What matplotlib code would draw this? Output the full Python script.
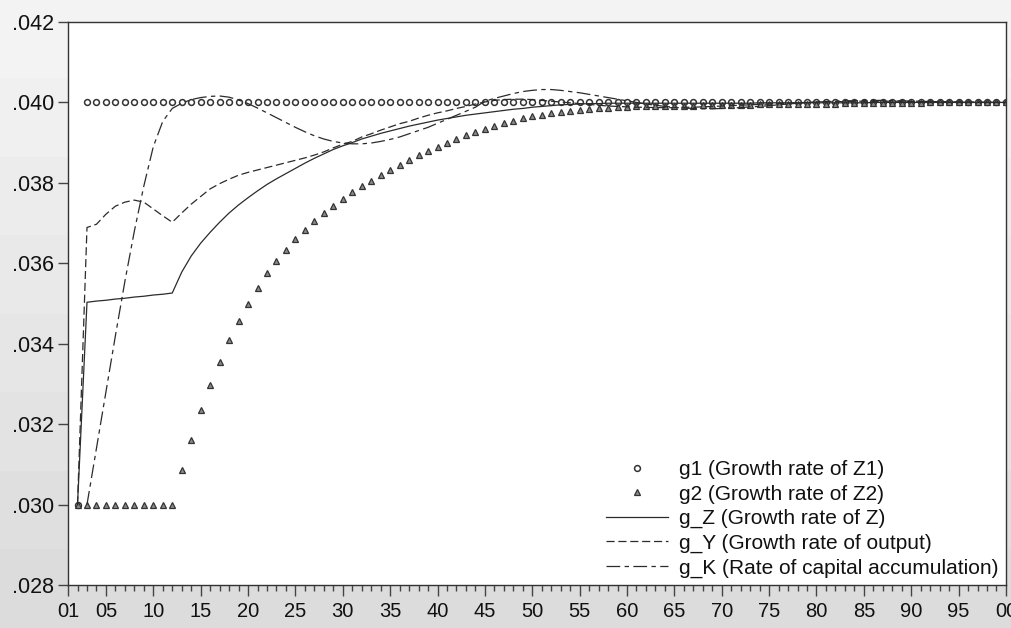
import numpy as np
import matplotlib
matplotlib.use("Agg")
import matplotlib.pyplot as plt
from matplotlib.ticker import FixedLocator, FuncFormatter

plt.rcParams['font.family'] = ['Liberation Sans', 'DejaVu Sans']

nan = np.nan

# periods 01 .. 00 (1..100)
periods = list(range(1, 101))

g1 = [nan, 0.030,
      0.040, 0.040, 0.040, 0.040, 0.040, 0.040, 0.040, 0.040,
      0.040, 0.040, 0.040, 0.040, 0.040, 0.040, 0.040, 0.040, 0.040, 0.040,
      0.040, 0.040, 0.040, 0.040, 0.040, 0.040, 0.040, 0.040, 0.040, 0.040,
      0.040, 0.040, 0.040, 0.040, 0.040, 0.040, 0.040, 0.040, 0.040, 0.040,
      0.040, 0.040, 0.040, 0.040, 0.040, 0.040, 0.040, 0.040, 0.040, 0.040,
      0.040, 0.040, 0.040, 0.040, 0.040, 0.040, 0.040, 0.040, 0.040, 0.040,
      0.040, 0.040, 0.040, 0.040, 0.040, 0.040, 0.040, 0.040, 0.040, 0.040,
      0.040, 0.040, 0.040, 0.040, 0.040, 0.040, 0.040, 0.040, 0.040, 0.040,
      0.040, 0.040, 0.040, 0.040, 0.040, 0.040, 0.040, 0.040, 0.040, 0.040,
      0.040, 0.040, 0.040, 0.040, 0.040, 0.040, 0.040, 0.040, 0.040, 0.040]

g2 = [nan, 0.030, 0.030, 0.030, 0.030, 0.030, 0.030, 0.030, 0.030, 0.030,
      0.030, 0.030, 0.03085, 0.03161, 0.03234, 0.03297, 0.03355, 0.03409, 0.03456, 0.03499,
      0.03538, 0.03575, 0.03606, 0.03633, 0.03661, 0.03683, 0.03704, 0.03725, 0.03743, 0.03760,
      0.03776, 0.03791, 0.03805, 0.03819, 0.03831, 0.03844, 0.03856, 0.03868, 0.03879, 0.03890,
      0.03900, 0.03909, 0.03918, 0.03926, 0.03934, 0.03941, 0.03948, 0.03954, 0.03960, 0.03965,
      0.03969, 0.03973, 0.03976, 0.03979, 0.03982, 0.03984, 0.03986, 0.03987, 0.03988, 0.03989,
      0.03990, 0.03990, 0.03991, 0.03991, 0.03992, 0.03992, 0.03992, 0.03993, 0.03993, 0.03993,
      0.03994, 0.03994, 0.03994, 0.03995, 0.03995, 0.03995, 0.03996, 0.03996, 0.03996, 0.03997,
      0.03997, 0.03997, 0.03998, 0.03998, 0.03998, 0.03998, 0.03999, 0.03999, 0.03999, 0.03999,
      0.03999, 0.04000, 0.04000, 0.04000, 0.04000, 0.04000, 0.04000, 0.04000, 0.04000, 0.04000]

g_Z = [nan, 0.030, 0.03503, 0.03506, 0.03508, 0.03511, 0.03513, 0.03516, 0.03518, 0.03521,
       0.03523, 0.03526, 0.03578, 0.03618, 0.03650, 0.03677, 0.03702, 0.03725, 0.03745, 0.03763,
       0.03780, 0.03796, 0.03810, 0.03823, 0.03836, 0.03849, 0.03861, 0.03872, 0.03883, 0.03892,
       0.03900, 0.03909, 0.03916, 0.03923, 0.03929, 0.03935, 0.03941, 0.03946, 0.03951, 0.03956,
       0.03960, 0.03964, 0.03968, 0.03971, 0.03974, 0.03977, 0.03980, 0.03983, 0.03985, 0.03988,
       0.03990, 0.03992, 0.03994, 0.03995, 0.03996, 0.03997, 0.03997, 0.03998, 0.03998, 0.03998,
       0.03998, 0.03998, 0.03998, 0.03998, 0.03998, 0.03998, 0.03998, 0.03998, 0.03998, 0.03998,
       0.03998, 0.03998, 0.03998, 0.03999, 0.03999, 0.03999, 0.03999, 0.03999, 0.03999, 0.03999,
       0.03999, 0.03999, 0.03999, 0.03999, 0.03999, 0.04000, 0.04000, 0.04000, 0.04000, 0.04000,
       0.04000, 0.04000, 0.04000, 0.04000, 0.04000, 0.04000, 0.04000, 0.04000, 0.04000, 0.04000]

g_Y = [nan, 0.030, 0.03689, 0.03697, 0.03722, 0.03742, 0.03752, 0.03757, 0.03752, 0.03735,
       0.03718, 0.03702, 0.03725, 0.03747, 0.03766, 0.03785, 0.03798, 0.03809, 0.03819, 0.03826,
       0.03832, 0.03838, 0.03844, 0.03850, 0.03856, 0.03862, 0.03869, 0.03877, 0.03887, 0.03896,
       0.03903, 0.03914, 0.03922, 0.03931, 0.03939, 0.03947, 0.03953, 0.03961, 0.03968, 0.03974,
       0.03979, 0.03985, 0.03990, 0.03996, 0.04001, 0.04005, 0.04007, 0.04008, 0.04008, 0.04007,
       0.04005, 0.04003, 0.04001, 0.03999, 0.03997, 0.03995, 0.03993, 0.03991, 0.03990, 0.03989,
       0.03988, 0.03988, 0.03987, 0.03987, 0.03987, 0.03988, 0.03988, 0.03989, 0.03990, 0.03991,
       0.03992, 0.03993, 0.03994, 0.03995, 0.03996, 0.03997, 0.03998, 0.03999, 0.04000, 0.04001,
       0.04002, 0.04002, 0.04002, 0.04003, 0.04003, 0.04003, 0.04003, 0.04003, 0.04003, 0.04002,
       0.04002, 0.04002, 0.04002, 0.04001, 0.04001, 0.04001, 0.04001, 0.04000, 0.04000, 0.04000]

g_K = [nan, nan, 0.030, 0.03140, 0.03280, 0.03420, 0.03555, 0.03680, 0.03792, 0.03890,
       0.03953, 0.03985, 0.03998, 0.04007, 0.04012, 0.04015, 0.04016, 0.04013, 0.04006, 0.03997,
       0.03986, 0.03974, 0.03962, 0.03950, 0.03938, 0.03927, 0.03917, 0.03909, 0.03903, 0.03899,
       0.03897, 0.03897, 0.03899, 0.03903, 0.03908, 0.03914, 0.03922, 0.03930, 0.03938, 0.03948,
       0.03958, 0.03968, 0.03978, 0.03988, 0.04003, 0.04010, 0.04016, 0.04022, 0.04027, 0.04030,
       0.04032, 0.04032, 0.04030, 0.04027, 0.04024, 0.04020, 0.04016, 0.04012, 0.04008, 0.04004,
       0.04000, 0.03996, 0.03993, 0.03990, 0.03988, 0.03986, 0.03985, 0.03984, 0.03984, 0.03985,
       0.03986, 0.03987, 0.03989, 0.03990, 0.03992, 0.03994, 0.03996, 0.03998, 0.04000, 0.04001,
       0.04002, 0.04003, 0.04004, 0.04004, 0.04005, 0.04005, 0.04005, 0.04004, 0.04004, 0.04003,
       0.04003, 0.04002, 0.04002, 0.04001, 0.04001, 0.04000, 0.04000, 0.04000, 0.04000, 0.04000]

labels = ['g1 (Growth rate of Z1)',
          'g2 (Growth rate of Z2)',
          'g_Z (Growth rate of Z)',
          'g_Y (Growth rate of output)',
          'g_K (Rate of capital accumulation)']

fig = plt.figure(figsize=(10.11, 6.28), dpi=100)

# grey banded background like the EViews frame
bg = fig.add_axes([0, 0, 1, 1], zorder=-10)
shades = np.linspace(0.955, 0.865, 8).reshape(-1, 1)
bg.imshow(np.repeat(shades, 3, axis=1)[:, :, None].repeat(3, axis=2),
          aspect='auto', extent=[0, 1, 0, 1], interpolation='nearest')
bg.axis('off')

ax = fig.add_axes([0.0673, 0.0685, 0.9277, 0.8965])
ax.set_facecolor('white')

ink = '#2b2b2b'
ax.plot(periods, g1, linestyle='none', marker='o', markersize=4.2,
        markerfacecolor='white', markeredgecolor='#333333', markeredgewidth=1.1,
        label=labels[0])
ax.plot(periods, g2, linestyle='none', marker='^', markersize=5,
        markerfacecolor='#8a8a8a', markeredgecolor='#333333', markeredgewidth=0.9,
        label=labels[1])
ax.plot(periods, g_Z, color=ink, linewidth=0.9, label=labels[2])
ax.plot(periods, g_Y, color=ink, linewidth=0.9, dashes=(6.5, 3), label=labels[3])
ax.plot(periods, g_K, color=ink, linewidth=0.9, dashes=(11, 3.5, 3.5, 3.5),
        label=labels[4])

ax.set_xlim(1, 100)
ax.set_ylim(0.028, 0.042)

ax.set_yticks(np.arange(0.028, 0.0421, 0.002))
ax.yaxis.set_major_formatter(FuncFormatter(lambda v, p: ('%.3f' % v)[1:]))
major_x = [1] + list(range(5, 101, 5))
ax.xaxis.set_major_locator(FixedLocator(major_x))
ax.xaxis.set_minor_locator(FixedLocator(periods))
ax.xaxis.set_major_formatter(FuncFormatter(lambda v, p: '%02d' % (int(round(v)) % 100)))

ax.tick_params(axis='y', direction='out', length=7, width=1, color='#444444',
               labelsize=15.5, pad=3, labelcolor='#111111')
ax.tick_params(axis='x', which='major', direction='out', length=8, width=1,
               color='#444444', labelsize=14.5, pad=4, labelcolor='#111111')
ax.tick_params(axis='x', which='minor', direction='out', length=4, width=1,
               color='#444444')
for s in ax.spines.values():
    s.set_color('#333333')
    s.set_linewidth(1)

leg = ax.legend(loc='lower right', frameon=False, fontsize=15,
                handlelength=2.95, handletextpad=0.55, labelspacing=0.26,
                borderaxespad=0.05, borderpad=0.3, markerscale=1.0)
for t in leg.get_texts():
    t.set_color('#111111')

fig.savefig('out.png', dpi=100, facecolor='#eeeeee')
